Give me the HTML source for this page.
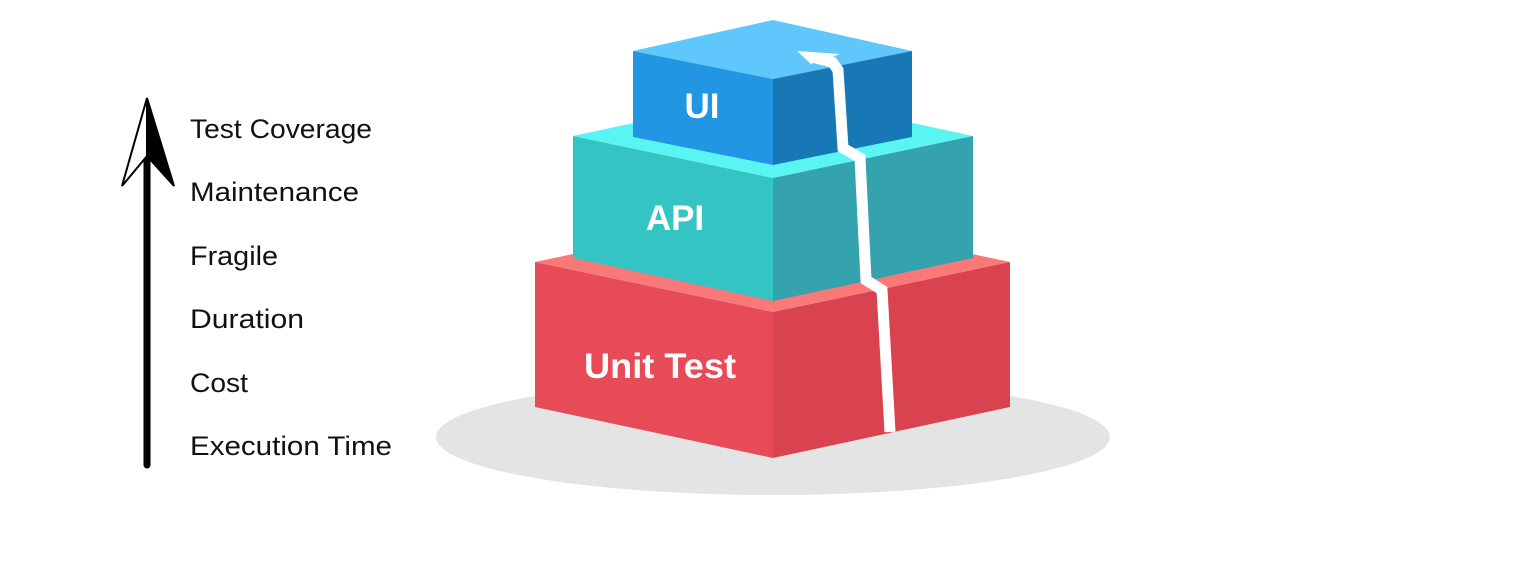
<!DOCTYPE html>
<html><head><meta charset="utf-8"><style>
html,body{margin:0;padding:0;background:#fff;}
svg{display:block}
</style></head><body>
<svg width="1536" height="577" viewBox="0 0 1536 577" xmlns="http://www.w3.org/2000/svg">
<ellipse cx="773" cy="437" rx="337" ry="58" fill="#e4e4e4"/>
<polygon points="535,262 773,212 1010,262 773,312" fill="#fb7878"/>
<polygon points="535,262 773,312 773,458 535,407" fill="#e64b57"/>
<polygon points="773,312 1010,262 1010,407 773,458" fill="#d94350"/>
<polygon points="573,136 773,93 973,136 773,178" fill="#5af5f3"/>
<polygon points="573,136 773,178 773,301 573,258" fill="#35c4c4"/>
<polygon points="773,178 973,136 973,258 773,301" fill="#35a3ad"/>
<polygon points="633,51 773,20 912,51 773,79" fill="#5fc7fb"/>
<polygon points="633,51 773,79 773,165 633,137" fill="#2396e3"/>
<polygon points="773,79 912,51 912,137 773,165" fill="#1878b5"/>
<polyline points="816,58 832,62 838,70 843,148 860,158 866,280 882,290 890,432" fill="none" stroke="#fff" stroke-width="11" stroke-linejoin="miter"/>
<polygon points="797,51 840,54 811,64" fill="#fff"/>
<g font-family="Liberation Sans, sans-serif" font-weight="bold" fill="#fff" text-anchor="middle">
<text x="702" y="118" font-size="35">UI</text>
<text x="675" y="230" font-size="35">API</text>
<text x="660" y="378" font-size="35" textLength="152" lengthAdjust="spacingAndGlyphs">Unit Test</text>
</g>
<line x1="147" y1="150" x2="147" y2="465" stroke="#000" stroke-width="7" stroke-linecap="round"/>
<polygon points="147,98 122,186 147,156" fill="#fff" stroke="#000" stroke-width="2"/>
<polygon points="147,98 174,186 147,156" fill="#000" stroke="#000" stroke-width="2"/>
<g font-family="Liberation Sans, sans-serif" font-size="27" fill="#111">
<text x="190" y="138" textLength="182" lengthAdjust="spacingAndGlyphs">Test Coverage</text>
<text x="190" y="201" textLength="169" lengthAdjust="spacingAndGlyphs">Maintenance</text>
<text x="190" y="265" textLength="88" lengthAdjust="spacingAndGlyphs">Fragile</text>
<text x="190" y="328" textLength="114" lengthAdjust="spacingAndGlyphs">Duration</text>
<text x="190" y="392" textLength="58" lengthAdjust="spacingAndGlyphs">Cost</text>
<text x="190" y="455" textLength="202" lengthAdjust="spacingAndGlyphs">Execution Time</text>
</g>
</svg>
</body></html>
